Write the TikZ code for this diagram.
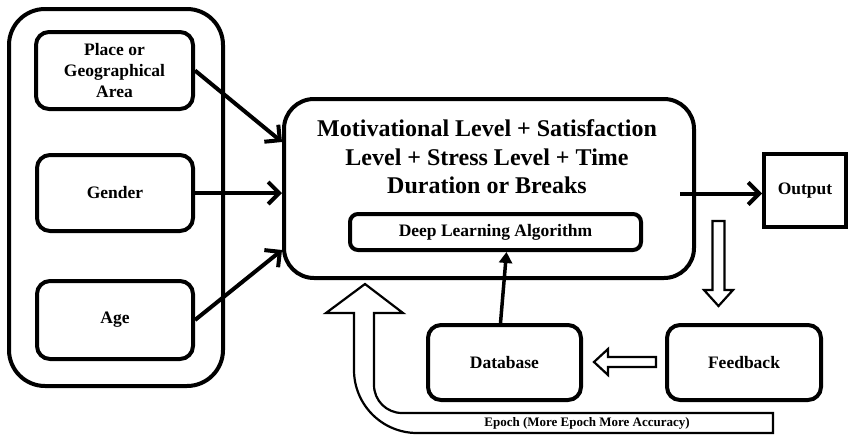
\documentclass[tikz,border=0pt]{standalone}
\usepackage{fontspec}
\setmainfont{Liberation Serif}
\usetikzlibrary{arrows.meta,calc}
\begin{document}
\begin{tikzpicture}[x=1pt,y=-1pt,
  box/.style={draw,line width=4pt,rounded corners=13pt,inner sep=0pt,align=center,
    font=\fontsize{17.5}{21}\selectfont\bfseries},
  arr/.style={line width=4pt,-{Straight Barb[length=11pt,width=22pt]}},
  arrT/.style={line width=3.5pt,-{Triangle[length=11pt,width=13pt]}},
  hollow/.style={draw,line width=2.2pt,line join=miter,fill=white}
]
\useasboundingbox (0,0) rectangle (854,437);

% input group
\node[box,rounded corners=36pt,minimum width=214pt,minimum height=377pt] (group) at (116,197.5) {};
\node[box,minimum width=157pt,minimum height=77pt] (place) at (114.5,70.5) {Place or\\Geographical\\Area};
\node[box,minimum width=156pt,minimum height=76pt] (gender) at (115,193) {Gender};
\node[box,minimum width=156pt,minimum height=78pt] (age) at (115,320) {Age};

% central model
\node[box,rounded corners=30pt,minimum width=410pt,minimum height=179pt] (central) at (489,188.5) {};
\node[font=\fontsize{24}{28.5}\selectfont\bfseries,align=center] (factors) at (487,157)
  {Motivational Level + Satisfaction\\Level + Stress Level + Time\\Duration or Breaks};
\node[box,rounded corners=8pt,minimum width=291pt,minimum height=36pt] (dla) at (495.5,232) {Deep Learning Algorithm};

% output side
\node[box,sharp corners,minimum width=82pt,minimum height=73pt] (output) at (805,190.5) {Output};
\node[box,minimum width=153pt,minimum height=75pt] (database) at (504.5,362.5) {Database};
\node[box,minimum width=154pt,minimum height=75pt] (feedback) at (744,362.5) {Feedback};

% input arrows
\draw[arr] (place.east) -- ([yshift=46.5pt]central.west);
\draw[arr] (gender.east) -- (central.west |- gender.east);
\draw[arr] (age.east) -- ([yshift=-61.5pt]central.west);

% result arrow
\draw[arr] ($(central.east |- output.west)+(-16,3)$) -- ($(output.west)+(0,3)$);

% database feeds the algorithm
\draw[arrT] ($(database.north)+(-4,0)$) -- ($(dla.south)+(11,0)$);

% hollow arrow down to feedback
\draw[hollow] (712.5,221) -- (724.5,221) -- (724.5,290) -- (733,290) -- (718.5,306)
  -- (704,290) -- (712.5,290) -- cycle;

% hollow arrow from feedback to database
\draw[hollow] (656,357) -- (656,367) -- (608,367) -- (608,375) -- (594,362)
  -- (608,349) -- (608,357) -- cycle;

% epoch loop arrow
\draw[hollow] (365,284) -- (403,313) -- (374,313) -- (374,385)
  .. controls (374,400.5) and (386.5,413) .. (402,413) -- (773,413) -- (773,433)
  -- (417,433) .. controls (382.2,433) and (354,404.8) .. (354,370)
  -- (354,313) -- (326,313) -- cycle;
\node[font=\fontsize{13}{15}\selectfont\bfseries] (epoch) at (587,423)
  {Epoch (More Epoch More Accuracy)};
\end{tikzpicture}
\end{document}
